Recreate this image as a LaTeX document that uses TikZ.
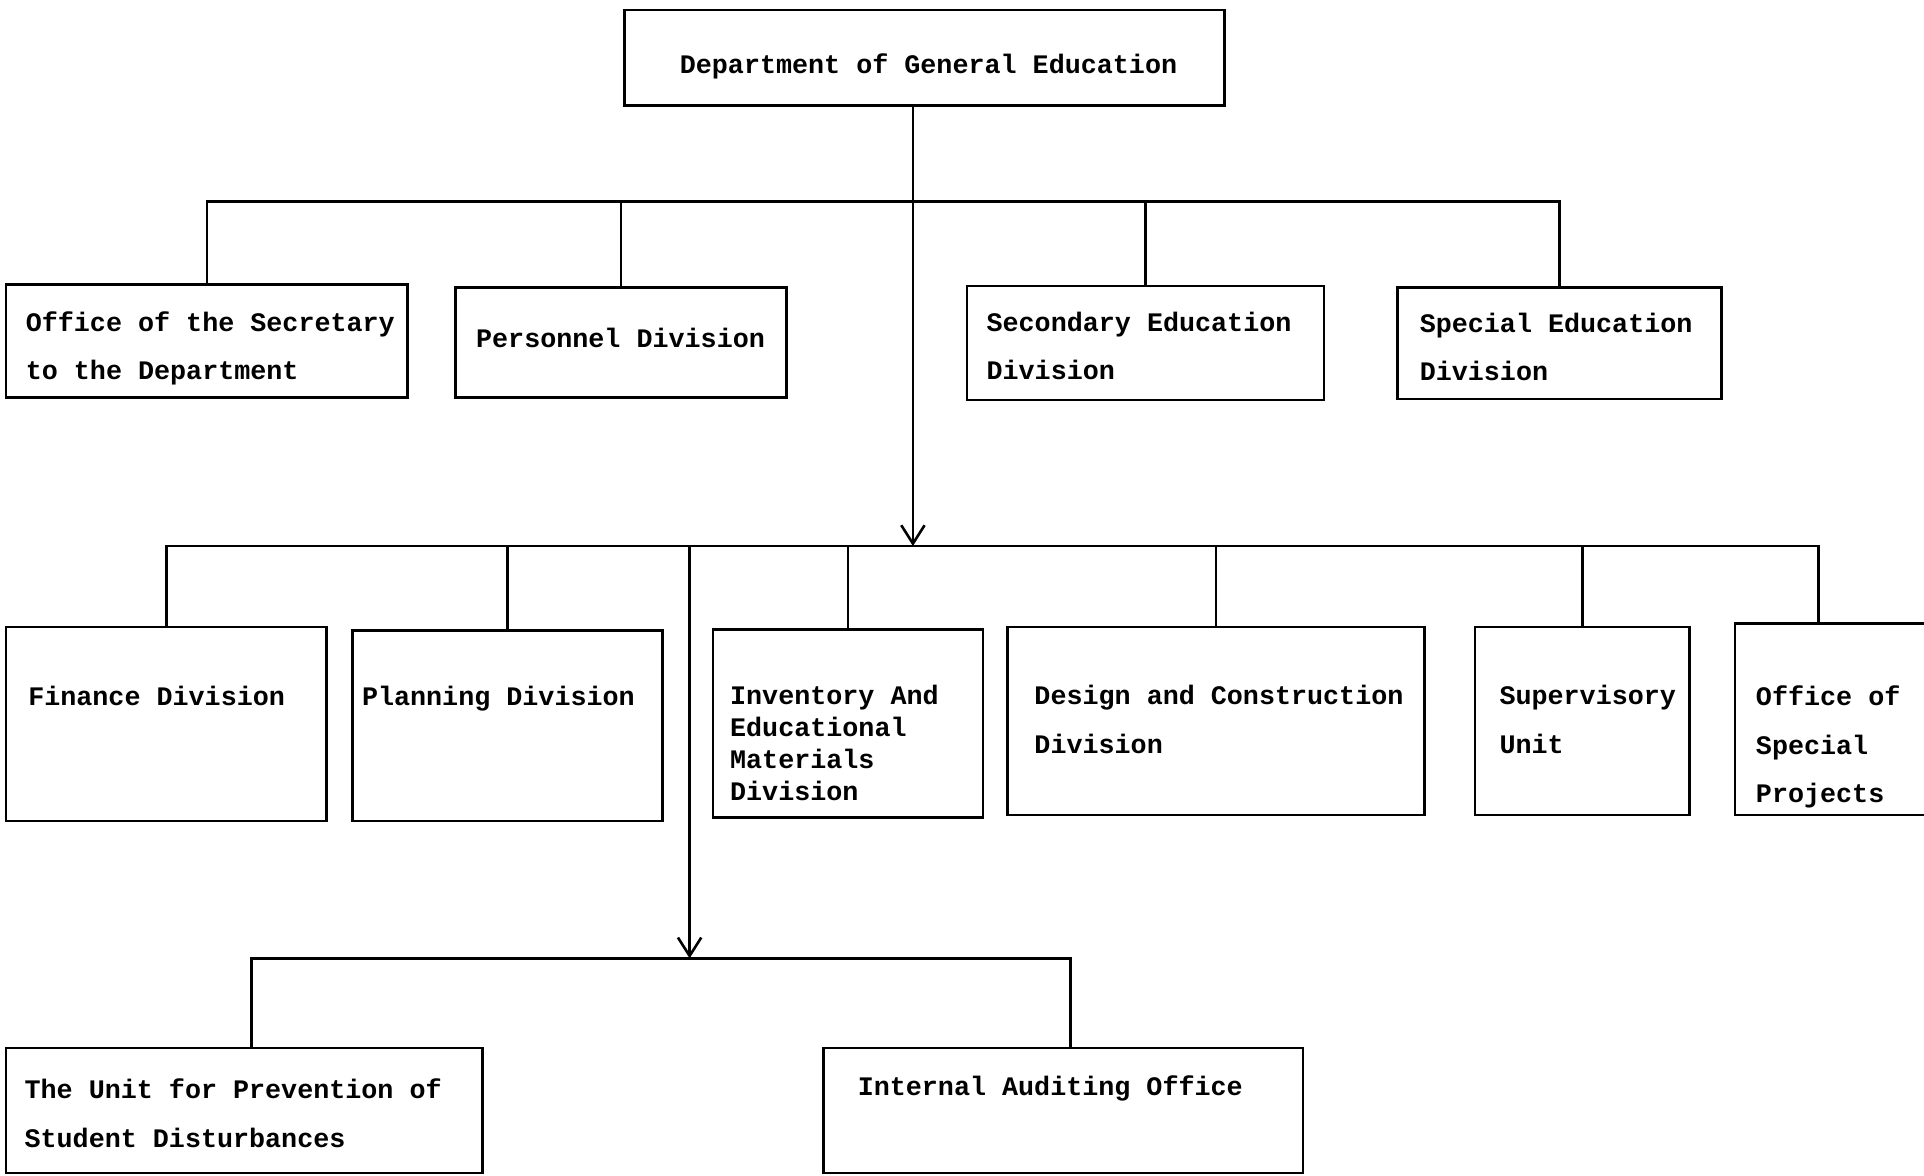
\documentclass[tikz,border=0pt]{standalone}
\usepackage{fontspec}
\setmonofont{Liberation Mono}
\usetikzlibrary{arrows.meta}
\newlength{\chartpx}
\setlength{\chartpx}{0.02cm}
% text in a box: width, height, first baseline, indent, line skip, lines
\newcommand{\boxtext}[6]{\parbox[t][#2\chartpx][t]{#1\chartpx}{\fontsize{12.4}{#5\chartpx}\selectfont\raggedright\leftskip=#4\chartpx\relax\vspace*{\dimexpr#3\chartpx-\ht\strutbox\relax}\strut#6}}
\tikzset{
  orgbox/.style={draw, line width=1.2pt, anchor=north west, inner sep=0pt,
    font=\ttfamily\bfseries\fontsize{12.4}{15}\selectfont},
  conn/.style={line width=1.2pt},
  down/.style={conn, -{Straight Barb[length=0.3cm, width=0.38cm]}}
}

\begin{document}
\begin{tikzpicture}[x=0.02cm, y=-0.02cm]
    \useasboundingbox (0,0) rectangle (1568,958);

    \node[orgbox] (dept) at (508,7) {\boxtext{489}{78}{50}{45}{20}{Department of General Education}};

    \node[orgbox] (offsec) at (4,231) {\boxtext{327}{92}{38}{16}{39}{Office of the Secretary\\to the Department}};
    \node[orgbox] (pers) at (370,233) {\boxtext{270}{90}{49}{17}{39}{Personnel Division}};
    \node[orgbox] (secedu) at (787,232) {\boxtext{291}{93}{37}{16}{39}{Secondary Education\\Division}};
    \node[orgbox] (spedu) at (1138,233) {\boxtext{264}{91}{37}{18}{39}{Special Education\\Division}};

    \node[orgbox] (fin) at (4,510) {\boxtext{261}{158}{64}{18}{40}{Finance Division}};
    \node[orgbox] (plan) at (286,513) {\boxtext{253}{155}{61}{8}{40}{Planning Division}};
    \node[orgbox] (inv) at (580,512) {\boxtext{220}{153}{61}{14}{26}{Inventory And\\Educational\\Materials\\Division}};
    \node[orgbox] (design) at (820,510) {\boxtext{340}{153}{63}{22}{40}{Design and Construction\\Division}};
    \node[orgbox] (super) at (1201,510) {\boxtext{175}{153}{63}{20}{40}{Supervisory\\Unit}};
    \node[orgbox] (osp) at (1413,507) {\boxtext{162}{156}{67}{17}{39.5}{Office of\\Special\\Projects}};

    \node[orgbox] (unit) at (4,853) {\boxtext{388}{102}{41}{15}{40}{The Unit for Prevention of\\Student Disturbances}};
    \node[orgbox] (audit) at (670,853) {\boxtext{391}{102}{39}{28}{40}{Internal Auditing Office}};

    \coordinate (row1) at (0,164);
    \coordinate (hub) at (744,445);
    \coordinate (hub2) at (562,781);
    \coordinate (ospin) at ([xshift=69\chartpx]osp.north west);
    \coordinate (unitin) at ([xshift=6\chartpx]unit.north);
    \coordinate (auditin) at ([xshift=6\chartpx]audit.north);

    % first level
    \draw[conn] (offsec.north) -- (offsec.north |- row1) -- (spedu.north |- row1) -- (spedu.north);
    \foreach \n in {pers,secedu}
        \draw[conn] (\n.north) -- (\n.north |- row1);
    \draw[down] (dept.south -| hub) -- (hub);

    % second level
    \draw[conn] (fin.north) -- (fin.north |- hub) -- (ospin |- hub) -- (ospin);
    \foreach \n in {plan,inv,design,super}
        \draw[conn] (\n.north) -- (\n.north |- hub);
    \draw[down] (hub2 |- hub) -- (hub2);

    % third level
    \draw[conn] (unitin) -- (unitin |- hub2) -- (auditin |- hub2) -- (auditin);
\end{tikzpicture}
\end{document}
